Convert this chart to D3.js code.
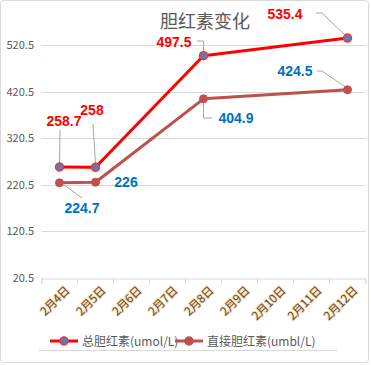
<!DOCTYPE html>
<html><head><meta charset="utf-8">
<script src="https://cdn.jsdelivr.net/npm/d3@7"></script>
<style>body{margin:0;background:#fff;}svg{display:block;font-family:"Microsoft YaHei","Noto Sans CJK SC","DejaVu Sans",sans-serif;}</style>
</head><body>
<svg id="c" width="371" height="365"></svg>
<script>
const categories = ["2月4日","2月5日","2月6日","2月7日","2月8日","2月9日","2月10日","2月11日","2月12日"];
const totalBili = [258.7, 258, null, null, 497.5, null, null, null, 535.4];
const directBili = [224.7, 226, null, null, 404.9, null, null, null, 424.5];
const yTicks = [20.5, 120.5, 220.5, 320.5, 420.5, 520.5];
const seriesNames = ["总胆红素(umol/L)", "直接胆红素(umbl/L)"];
const title = "胆红素变化";

const svg = d3.select("#c");
svg.append("rect").attr("x",0.5).attr("y",0.5).attr("width",368).attr("height",362).attr("rx",3)
  .attr("fill","#fff").attr("stroke","#d9d9d9");

const x = d3.scaleBand().domain(categories).range([41.5, 365.5]);
const y = d3.scaleLinear().domain([20.5, 520.5]).range([278, 45]);

// gridlines
svg.append("g").selectAll("line").data(yTicks.slice(1)).join("line")
  .attr("x1",41.5).attr("x2",365.5).attr("y1",d=>Math.round(y(d))+0.5).attr("y2",d=>Math.round(y(d))+0.5)
  .attr("stroke","#d9d9d9");

// y axis labels
svg.append("g").selectAll("text").data(yTicks).join("text")
  .attr("x",34).attr("y",d=>y(d)+4).attr("text-anchor","end")
  .attr("font-size",11).attr("fill","#595959").text(d=>d.toFixed(1));

// x axis
const xAxis = d3.axisBottom(x).tickSizeOuter(0).tickSize(5).tickFormat("");
const gx = svg.append("g").attr("transform",`translate(0,${Math.round(y(20.5))+0.5})`).call(xAxis);
gx.select(".domain").attr("stroke","#d9d9d9");
gx.selectAll(".tick line").attr("stroke","#d9d9d9").attr("transform",d=>`translate(${-x.bandwidth()/2},0)`);
gx.append("line").attr("x1",365.5).attr("x2",365.5).attr("y1",0).attr("y2",5).attr("stroke","#d9d9d9");

svg.append("g").selectAll("text").data(categories).join("text")
  .attr("transform",d=>`translate(${x(d)+x.bandwidth()/2+11},${291}) rotate(-45)`)
  .attr("text-anchor","end").attr("font-size",11.5)
  .attr("fill","#5a4a2a").attr("stroke","rgba(240,170,70,0.4)").attr("stroke-width",2)
  .attr("paint-order","stroke").text(d=>d);

// title
svg.append("text").attr("x",205).attr("y",28).attr("text-anchor","middle")
  .attr("font-size",18).attr("fill","#595959").text(title);

const cx = i => x(categories[i]) + x.bandwidth()/2;
const line = d3.line().defined(d=>d.v!=null).x(d=>cx(d.i)).y(d=>y(d.v));
function pts(arr){ return arr.map((v,i)=>({v,i})).filter(d=>d.v!=null); }

const tp = pts(totalBili), dp = pts(directBili);

// leader lines
const leaders = [
  [[60,130],[59.5,y(258.7)-4]],
  [[93,124],[95.5,y(258)-4]],
  [[197,41],[203.5,41],[203.5,y(497.5)-4]],
  [[316,13],[322,13],[345,y(535.4)-3]],
  [[317,71],[322,71],[345,y(424.5)-3]],
  [[212,118],[203.5,118],[203.5,y(404.9)+4]],
  [[82,198],[64,y(224.7)+2]]
];
svg.append("g").selectAll("path").data(leaders).join("path")
  .attr("d",d=>d3.line()(d)).attr("fill","none").attr("stroke","#a6a6a6").attr("stroke-width",1);

svg.append("path").datum(dp).attr("d",line).attr("fill","none").attr("stroke","#C0504D").attr("stroke-width",3).attr("stroke-linejoin","round");
svg.append("path").datum(tp).attr("d",line).attr("fill","none").attr("stroke","#FF0000").attr("stroke-width",3).attr("stroke-linejoin","round");

svg.append("g").selectAll("circle").data(dp).join("circle")
  .attr("cx",d=>cx(d.i)).attr("cy",d=>y(d.v)).attr("r",4).attr("fill","#C0504D").attr("stroke","#C0504D");
svg.append("g").selectAll("circle").data(tp).join("circle")
  .attr("cx",d=>cx(d.i)).attr("cy",d=>y(d.v)).attr("r",4).attr("fill","#4F81BD").attr("stroke","#FF3030").attr("stroke-width",1.5);

// data labels
const totalLabelPos = [[64,126],[92,115],null,null,[174,47],null,null,null,[285,19]];
const directLabelPos = [[82,213],[126,187],null,null,[236,123],null,null,null,[295,76]];
svg.append("g").selectAll("text").data(tp).join("text")
  .attr("x",d=>totalLabelPos[d.i][0]).attr("y",d=>totalLabelPos[d.i][1]).attr("text-anchor","middle")
  .attr("font-size",14).attr("font-weight","bold").attr("fill","#FF0000").attr("font-family","Arial, Liberation Sans, sans-serif")
  .text(d=>d.v);
svg.append("g").selectAll("text").data(dp).join("text")
  .attr("x",d=>directLabelPos[d.i][0]).attr("y",d=>directLabelPos[d.i][1]).attr("text-anchor","middle")
  .attr("font-size",14).attr("font-weight","bold").attr("fill","#0070C0").attr("font-family","Arial, Liberation Sans, sans-serif")
  .text(d=>d.v);

// legend
const lg = svg.append("g");
const leg = [{name:seriesNames[0], stroke:"#FF0000", fill:"#4F81BD", ms:"#FF3030", x0:50},
             {name:seriesNames[1], stroke:"#C0504D", fill:"#C0504D", ms:"#C0504D", x0:175}];
leg.forEach(l=>{
  lg.append("line").attr("x1",l.x0).attr("x2",l.x0+28).attr("y1",341).attr("y2",341).attr("stroke",l.stroke).attr("stroke-width",3);
  lg.append("circle").attr("cx",l.x0+14).attr("cy",341).attr("r",4).attr("fill",l.fill).attr("stroke",l.ms).attr("stroke-width",1.5);
  lg.append("text").attr("x",l.x0+32).attr("y",345.5).attr("font-size",12).attr("fill","#595959").text(l.name);
});
svg.append("line").attr("x1",39).attr("x2",337).attr("y1",350.5).attr("y2",350.5).attr("stroke","#d9d9d9");
</script>
</body></html>
